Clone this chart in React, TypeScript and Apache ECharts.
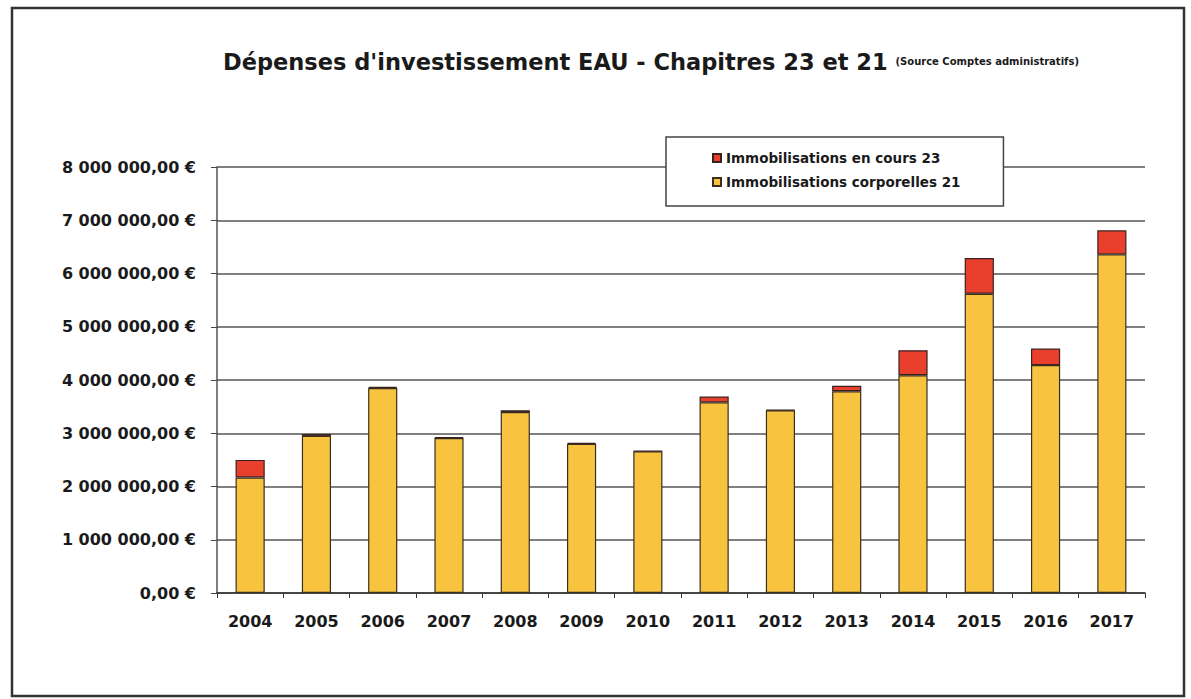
import React, { useEffect, useRef } from "react";
import * as echarts from "echarts";

const years = ["2004", "2005", "2006", "2007", "2008", "2009", "2010", "2011", "2012", "2013", "2014", "2015", "2016", "2017"];
const corporelles21 = [2170000, 2950000, 3850000, 2910000, 3400000, 2800000, 2660000, 3580000, 3430000, 3790000, 4090000, 5620000, 4280000, 6360000];
const enCours23 = [330000, 35000, 20000, 15000, 30000, 20000, 10000, 110000, 10000, 100000, 470000, 670000, 310000, 450000];
const yTicks = [0, 1000000, 2000000, 3000000, 4000000, 5000000, 6000000, 7000000, 8000000];

const fmt = (v: number) => {
  const s = Math.round(v).toString().replace(/\B(?=(\d{3})+(?!\d))/g, " ");
  return s + ",00 €";
};

export default function App() {
  const ref = useRef<HTMLDivElement>(null);
  useEffect(() => {
    const chart = echarts.init(ref.current!, undefined, { renderer: "svg" });
    const font = "DejaVu Sans";
    chart.setOption({
      animation: false,
      backgroundColor: "#ffffff",
      title: {
        text: "{a|Dépenses d'investissement EAU - Chapitres 23 et 21 }{b|(Source Comptes administratifs)}",
        left: 646,
        textAlign: "center",
        top: 45,
        textStyle: {
          rich: {
            a: { fontFamily: font, fontWeight: "bold", fontSize: 22.5, color: "#1a1a1a" },
            b: { fontFamily: font, fontWeight: "bold", fontSize: 10, color: "#1a1a1a" },
          },
        },
      },
      legend: {
        data: ["Immobilisations en cours 23", "Immobilisations corporelles 21"],
        orient: "vertical",
        left: 666,
        top: 137,
        padding: [14, 43, 17, 46],
        itemGap: 10,
        itemWidth: 8,
        itemHeight: 8,
        backgroundColor: "#ffffff",
        borderColor: "#444",
        borderWidth: 1.5,
        icon: "rect",
        textStyle: { fontFamily: font, fontWeight: "bold", fontSize: 13.5, color: "#1a1a1a" },
        z: 10,
      },
      grid: { left: 217, right: 46, top: 167, bottom: 106 },
      xAxis: {
        type: "category",
        data: years,
        axisLine: { lineStyle: { color: "#333", width: 1.5 } },
        axisTick: { show: true, length: 5, lineStyle: { color: "#333" } },
        axisLabel: { fontFamily: font, fontWeight: "bold", fontSize: 16, color: "#1a1a1a", margin: 20 },
      },
      yAxis: {
        type: "value",
        min: 0,
        max: 8000000,
        interval: 1000000,
        axisLine: { show: true, lineStyle: { color: "#555", width: 1.5 } },
        axisTick: { show: true, length: 6, lineStyle: { color: "#444" } },
        splitLine: { lineStyle: { color: "#555", width: 1.5 } },
        axisLabel: {
          fontFamily: font,
          fontWeight: "bold",
          fontSize: 16,
          color: "#1a1a1a",
          margin: 21,
          formatter: (v: number) => (yTicks.includes(v) ? fmt(v) : ""),
        },
      },
      series: [
        {
          name: "Immobilisations corporelles 21",
          type: "bar",
          stack: "total",
          data: corporelles21,
          barWidth: "44%",
          itemStyle: { color: "#F8C33E", borderColor: "#3a3020", borderWidth: 1.2 },
        },
        {
          name: "Immobilisations en cours 23",
          type: "bar",
          stack: "total",
          data: enCours23,
          barWidth: "44%",
          itemStyle: { color: "#E8402C", borderColor: "#3a2020", borderWidth: 1.2 },
        },
      ],
      graphic: [
        {
          type: "rect",
          shape: { x: 12, y: 8, width: 1172, height: 688 },
          style: { fill: "none", stroke: "#333", lineWidth: 2.5 },
          silent: true,
        },
      ],
    });
    return () => chart.dispose();
  }, []);
  return <div ref={ref} style={{ position: "absolute", left: 0, top: 0, width: 1191, height: 699 }} />;
}
